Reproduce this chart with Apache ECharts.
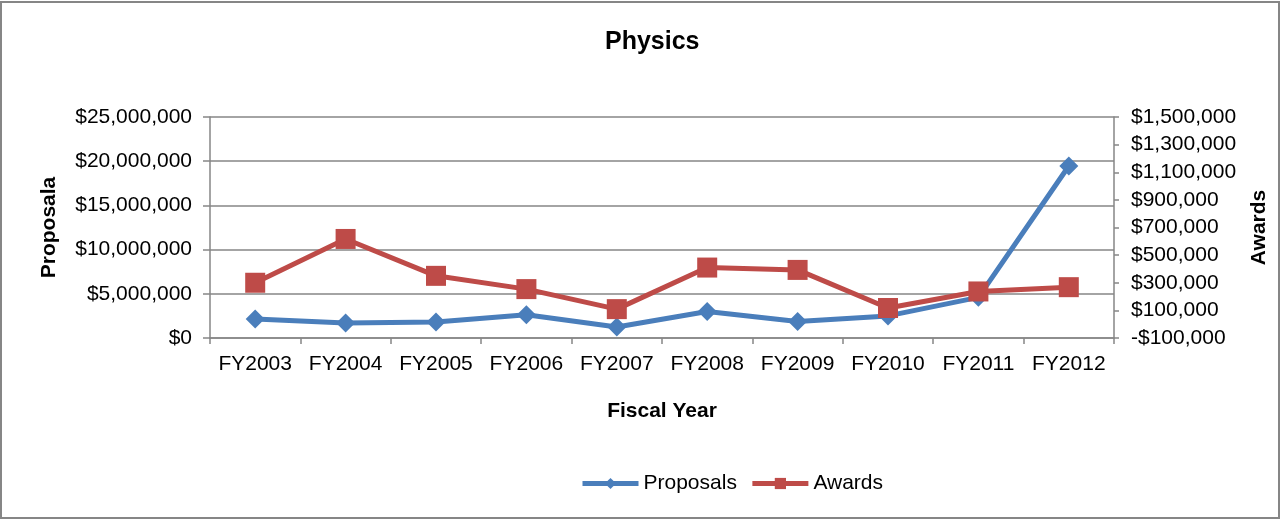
<!DOCTYPE html>
<html>
<head>
<meta charset="utf-8">
<title>Physics</title>
<script src="https://cdn.jsdelivr.net/npm/echarts@6/dist/echarts.min.js"></script>
<style>
  html, body { margin: 0; padding: 0; background: #ffffff; }
  #chart { width: 1281px; height: 520px; }
</style>
</head>
<body>
<div id="chart"></div>
<script>
// Fiscal years on the category axis
const categories = ['FY2003', 'FY2004', 'FY2005', 'FY2006', 'FY2007',
                    'FY2008', 'FY2009', 'FY2010', 'FY2011', 'FY2012'];

// Proposal dollars (left axis)
const proposals = [2140000, 1690000, 1800000, 2630000, 1240000,
                   3000000, 1870000, 2500000, 4600000, 19460000];

// Award dollars (right axis)
const awards = [300000, 617000, 350000, 254000, 109000,
                410000, 393000, 117000, 237000, 268000];

// Right-axis tick values
const awardTicks = [-100000, 100000, 300000, 500000, 700000,
                    900000, 1100000, 1300000, 1500000];

const FONT = "'Liberation Sans', Arial, sans-serif";
const GRAY = '#868686';
const BLUE = '#4A7EBB';
const RED = '#BE4B48';

function money(v) {
  const s = Math.abs(v).toLocaleString('en-US');
  return (v < 0 ? '-$' : '$') + s;
}

const chart = echarts.init(document.getElementById('chart'), null, { renderer: 'canvas' });

chart.setOption({
  backgroundColor: '#ffffff',
  animation: false,
  textStyle: { fontFamily: FONT },
  graphic: [{
    type: 'rect',
    shape: { x: 1, y: 2, width: 1278, height: 516 },
    style: { fill: 'none', stroke: GRAY, lineWidth: 2 },
    silent: true
  }],
  title: {
    text: 'Physics',
    left: 600,
    top: 25,
    textStyle: { fontFamily: FONT, fontSize: 25, fontWeight: 'bold', color: '#000' }
  },
  legend: {
    left: 575,
    top: 468,
    itemWidth: 56,
    itemHeight: 14,
    itemGap: 13,
    data: ['Proposals', 'Awards'],
    lineStyle: { width: 5 },
    textStyle: { fontFamily: FONT, fontSize: 21, color: '#000' }
  },
  grid: { left: 210, right: 167, top: 117, bottom: 182, outerBoundsMode: 'none' },
  xAxis: {
    type: 'category',
    data: categories,
    boundaryGap: true,
    name: 'Fiscal Year',
    nameLocation: 'middle',
    nameGap: 63,
    nameTextStyle: { fontFamily: FONT, fontSize: 21, fontWeight: 'bold', color: '#000' },
    axisLine: { lineStyle: { color: GRAY, width: 1.5 } },
    axisTick: { show: true, interval: 0, alignWithLabel: false, length: 6, lineStyle: { color: GRAY, width: 1.5 } },
    axisLabel: { interval: 0, margin: 16, fontFamily: FONT, fontSize: 21, color: '#000' }
  },
  yAxis: [
    {
      type: 'value',
      position: 'left',
      min: 0,
      max: 25000000,
      interval: 5000000,
      name: 'Proposala',
      nameLocation: 'middle',
      nameRotate: 90,
      nameGap: 150,
      nameTextStyle: { fontFamily: FONT, fontSize: 21, fontWeight: 'bold', color: '#000' },
      axisLine: { show: true, lineStyle: { color: GRAY, width: 1.5 } },
      axisTick: { show: true, length: 7, lineStyle: { color: GRAY, width: 1.5 } },
      axisLabel: { margin: 18, fontFamily: FONT, fontSize: 21, color: '#000', formatter: money },
      splitLine: { show: true, lineStyle: { color: GRAY, width: 1.5 } }
    },
    {
      type: 'value',
      position: 'right',
      min: -100000,
      max: 1500000,
      name: 'Awards',
      nameLocation: 'middle',
      nameRotate: 90,
      nameGap: 135,
      nameTextStyle: { fontFamily: FONT, fontSize: 21, fontWeight: 'bold', color: '#000' },
      axisLine: { show: true, lineStyle: { color: GRAY, width: 1.5 } },
      axisTick: { show: true, length: 5, customValues: awardTicks, lineStyle: { color: GRAY, width: 1.5 } },
      axisLabel: { margin: 17, fontFamily: FONT, fontSize: 21, color: '#000',
                   customValues: awardTicks, formatter: money },
      splitLine: { show: false }
    }
  ],
  series: [
    {
      name: 'Proposals',
      type: 'line',
      yAxisIndex: 0,
      data: proposals,
      symbol: 'diamond',
      symbolSize: 19,
      lineStyle: { color: BLUE, width: 5 },
      itemStyle: { color: BLUE },
      z: 2
    },
    {
      name: 'Awards',
      type: 'line',
      yAxisIndex: 1,
      data: awards,
      symbol: 'rect',
      symbolSize: 20,
      lineStyle: { color: RED, width: 5 },
      itemStyle: { color: RED },
      z: 3
    }
  ]
});
</script>
</body>
</html>
